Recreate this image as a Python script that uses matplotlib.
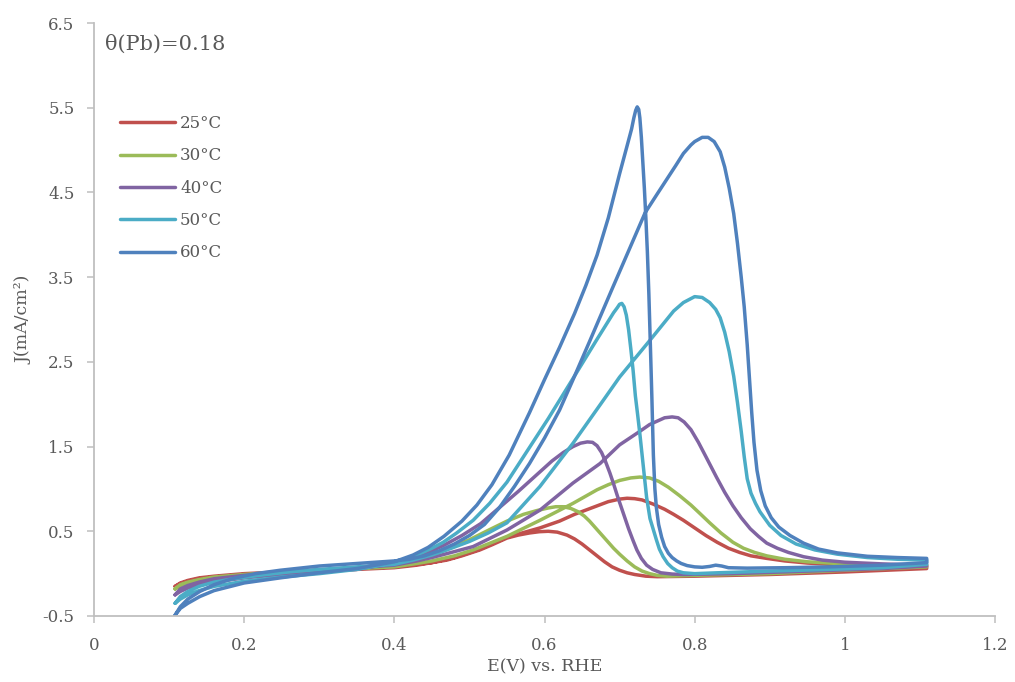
import matplotlib
matplotlib.use("Agg")
import matplotlib.pyplot as plt

# Cyclic voltammograms of ethanol oxidation, theta(Pb)=0.18, five temperatures.
# Each curve: anodic (forward) sweep 0.108 -> 1.109 V, then cathodic (backward) sweep back.

labels = ["25°C", "30°C", "40°C", "50°C", "60°C"]
colors = ["#C0504D", "#9BBB59", "#8064A2", "#4BACC6", "#4F81BD"]

# ---- 25 °C ----
e25_fwd = [0.108, 0.115, 0.125, 0.14, 0.16, 0.2, 0.25, 0.3, 0.35, 0.4, 0.43, 0.45, 0.48, 0.514, 0.55,
           0.594, 0.62, 0.64, 0.655, 0.67, 0.685, 0.70, 0.71, 0.72, 0.73, 0.745, 0.76, 0.772, 0.785,
           0.80, 0.815, 0.83, 0.845, 0.86, 0.875, 0.896, 0.92, 0.95, 1.0, 1.05, 1.109]
j25_fwd = [-0.15, -0.11, -0.08, -0.05, -0.03, 0.0, 0.02, 0.04, 0.06, 0.08, 0.11, 0.13, 0.19, 0.29, 0.43,
           0.54, 0.62, 0.70, 0.75, 0.80, 0.85, 0.88, 0.89, 0.885, 0.87, 0.82, 0.76, 0.70, 0.63,
           0.54, 0.45, 0.37, 0.30, 0.25, 0.21, 0.18, 0.15, 0.125, 0.10, 0.09, 0.08]
e25_bwd = [1.109, 1.0, 0.9, 0.8, 0.75, 0.735, 0.72, 0.71, 0.70, 0.69, 0.68, 0.67, 0.66, 0.65, 0.64,
           0.63, 0.617, 0.605, 0.593, 0.58, 0.565, 0.55, 0.53, 0.514, 0.49, 0.47, 0.45, 0.43, 0.4,
           0.35, 0.3, 0.25, 0.2, 0.16, 0.14, 0.125, 0.115, 0.108]
j25_bwd = [0.06, 0.02, -0.01, -0.03, -0.036, -0.03, -0.01, 0.01, 0.04, 0.08, 0.14, 0.21, 0.28, 0.35, 0.41,
           0.455, 0.49, 0.50, 0.495, 0.48, 0.455, 0.42, 0.34, 0.28, 0.21, 0.16, 0.13, 0.10, 0.07,
           0.05, 0.03, 0.01, -0.01, -0.04, -0.06, -0.09, -0.12, -0.15]

# ---- 30 °C ----
e30_fwd = [0.108, 0.115, 0.125, 0.14, 0.16, 0.2, 0.25, 0.3, 0.35, 0.4, 0.43, 0.45, 0.48, 0.505, 0.55,
           0.594, 0.638, 0.67, 0.685, 0.70, 0.715, 0.727, 0.74, 0.752, 0.765, 0.78, 0.795, 0.807,
           0.82, 0.835, 0.851, 0.865, 0.88, 0.896, 0.92, 0.95, 1.0, 1.05, 1.109]
j30_fwd = [-0.18, -0.13, -0.10, -0.07, -0.04, -0.01, 0.02, 0.04, 0.06, 0.08, 0.12, 0.15, 0.21, 0.28, 0.44,
           0.63, 0.83, 0.99, 1.05, 1.10, 1.13, 1.14, 1.13, 1.09, 1.02, 0.92, 0.81, 0.71,
           0.60, 0.48, 0.37, 0.30, 0.25, 0.21, 0.17, 0.14, 0.115, 0.105, 0.10]
e30_bwd = [1.109, 1.0, 0.9, 0.8, 0.763, 0.75, 0.74, 0.73, 0.72, 0.71, 0.70, 0.692, 0.684, 0.676,
           0.668, 0.66, 0.653, 0.645, 0.635, 0.625, 0.615, 0.605, 0.59, 0.572, 0.55, 0.527, 0.5,
           0.47, 0.45, 0.43, 0.4, 0.35, 0.3, 0.25, 0.2, 0.16, 0.14, 0.125, 0.115, 0.108]
j30_bwd = [0.08, 0.04, 0.0, -0.02, -0.03, -0.02, 0.0, 0.03, 0.08, 0.15, 0.23, 0.30, 0.38, 0.46,
           0.54, 0.62, 0.68, 0.73, 0.77, 0.79, 0.79, 0.775, 0.745, 0.70, 0.62, 0.52, 0.40,
           0.29, 0.22, 0.16, 0.10, 0.06, 0.03, 0.0, -0.02, -0.05, -0.08, -0.11, -0.14, -0.18]

# ---- 40 °C ----
e40_fwd = [0.108, 0.115, 0.125, 0.14, 0.16, 0.2, 0.25, 0.3, 0.35, 0.4, 0.43, 0.45, 0.48, 0.505, 0.55,
           0.594, 0.638, 0.674, 0.70, 0.727, 0.74, 0.75, 0.76, 0.77, 0.778, 0.786, 0.795, 0.805,
           0.815, 0.829, 0.84, 0.851, 0.862, 0.874, 0.885, 0.896, 0.91, 0.925, 0.945, 0.97, 1.0,
           1.05, 1.109]
j40_fwd = [-0.25, -0.18, -0.14, -0.10, -0.06, -0.02, 0.01, 0.04, 0.07, 0.10, 0.15, 0.19, 0.26, 0.32, 0.515,
           0.75, 1.07, 1.30, 1.52, 1.68, 1.76, 1.80, 1.84, 1.85, 1.84, 1.79, 1.70, 1.55,
           1.38, 1.14, 0.96, 0.80, 0.66, 0.53, 0.44, 0.36, 0.30, 0.25, 0.20, 0.16, 0.135,
           0.115, 0.10]
e40_bwd = [1.109, 1.05, 0.95, 0.85, 0.785, 0.77, 0.755, 0.744, 0.736, 0.729, 0.723, 0.718, 0.712,
           0.707, 0.702, 0.697, 0.692, 0.687, 0.681, 0.676, 0.670, 0.664, 0.657, 0.648, 0.638,
           0.625, 0.61, 0.59, 0.565, 0.54, 0.515, 0.49, 0.465, 0.445, 0.425, 0.4, 0.35, 0.3, 0.25,
           0.2, 0.16, 0.14, 0.125, 0.115, 0.108]
j40_bwd = [0.09, 0.06, 0.03, 0.0, -0.01, -0.005, 0.01, 0.05, 0.10, 0.18, 0.28, 0.39, 0.53,
           0.66, 0.79, 0.92, 1.06, 1.19, 1.33, 1.43, 1.51, 1.55, 1.555, 1.54, 1.50,
           1.43, 1.33, 1.17, 0.97, 0.78, 0.59, 0.45, 0.33, 0.25, 0.19, 0.13, 0.05, 0.02, -0.01,
           -0.05, -0.10, -0.13, -0.17, -0.21, -0.25]

# ---- 50 °C ----
e50_fwd = [0.108, 0.115, 0.125, 0.14, 0.16, 0.186, 0.22, 0.26, 0.3, 0.35, 0.4, 0.425, 0.45, 0.47, 0.5,
           0.525, 0.55, 0.594, 0.638, 0.681, 0.70, 0.74, 0.772, 0.785, 0.80, 0.81, 0.82, 0.828,
           0.834, 0.84, 0.846, 0.852, 0.857, 0.862, 0.866, 0.870, 0.875, 0.881, 0.887, 0.90,
           0.915, 0.935, 0.96, 0.99, 1.03, 1.07, 1.109]
j50_fwd = [-0.35, -0.27, -0.21, -0.15, -0.10, -0.06, -0.02, 0.02, 0.05, 0.08, 0.11, 0.16, 0.22, 0.28, 0.38,
           0.48, 0.60, 1.03, 1.54, 2.08, 2.32, 2.75, 3.10, 3.20, 3.27, 3.26, 3.20, 3.12,
           3.02, 2.85, 2.62, 2.33, 2.02, 1.68, 1.38, 1.12, 0.95, 0.83, 0.73, 0.57,
           0.45, 0.35, 0.28, 0.23, 0.19, 0.17, 0.16]
e50_bwd = [1.109, 1.05, 0.98, 0.9, 0.83, 0.80, 0.785, 0.777, 0.770, 0.764, 0.758, 0.753, 0.749,
           0.7405, 0.736, 0.733, 0.730, 0.727, 0.724, 0.721, 0.718, 0.715, 0.712, 0.709, 0.706,
           0.703, 0.700, 0.697, 0.692, 0.6695, 0.637, 0.605, 0.572, 0.55, 0.527, 0.505, 0.483,
           0.465, 0.45, 0.425, 0.4, 0.35, 0.3, 0.25, 0.2, 0.16, 0.14, 0.125, 0.115, 0.108]
j50_bwd = [0.11, 0.07, 0.05, 0.03, 0.01, 0.0, 0.01, 0.03, 0.07, 0.12, 0.20, 0.29, 0.40,
           0.65, 0.90, 1.15, 1.40, 1.65, 1.88, 2.10, 2.40, 2.65, 2.88, 3.05, 3.15,
           3.19, 3.18, 3.14, 3.08, 2.76, 2.29, 1.83, 1.38, 1.08, 0.83, 0.63, 0.48,
           0.37, 0.30, 0.20, 0.13, 0.05, 0.0, -0.04, -0.09, -0.15, -0.20, -0.25, -0.30, -0.35]

# ---- 60 °C ----
e60_fwd = [0.108, 0.115, 0.125, 0.141, 0.16, 0.186, 0.215, 0.248, 0.3, 0.35, 0.4, 0.42, 0.44, 0.46,
           0.48, 0.50, 0.52, 0.54, 0.56, 0.58, 0.60, 0.62, 0.637, 0.66, 0.69, 0.712, 0.734, 0.75,
           0.7625, 0.775, 0.785, 0.795, 0.80, 0.81, 0.818, 0.826, 0.834, 0.84, 0.846, 0.852, 0.857,
           0.862, 0.866, 0.870, 0.873, 0.876, 0.879, 0.883, 0.888, 0.894, 0.902, 0.912, 0.927,
           0.945, 0.965, 0.99, 1.03, 1.07, 1.109]
j60_fwd = [-0.49, -0.39, -0.30, -0.21, -0.13, -0.055, 0.0, 0.04, 0.09, 0.12, 0.15, 0.17, 0.21, 0.27,
           0.35, 0.45, 0.58, 0.78, 1.03, 1.30, 1.60, 1.93, 2.27, 2.74, 3.36, 3.81, 4.26, 4.48,
           4.65, 4.82, 4.96, 5.06, 5.10, 5.15, 5.15, 5.10, 4.98, 4.80, 4.55, 4.25, 3.90,
           3.50, 3.15, 2.70, 2.30, 1.90, 1.55, 1.22, 0.98, 0.80, 0.66, 0.55, 0.45,
           0.36, 0.29, 0.245, 0.205, 0.19, 0.18]
e60_bwd = [1.109, 1.05, 0.98, 0.92, 0.87, 0.845, 0.836, 0.828, 0.82, 0.81, 0.80, 0.79, 0.782,
           0.776, 0.770, 0.765, 0.760, 0.756, 0.752, 0.749, 0.747, 0.745, 0.743, 0.741, 0.739,
           0.737, 0.735, 0.733, 0.731, 0.729, 0.727, 0.7255, 0.7235, 0.7215, 0.719, 0.716, 0.71,
           0.70, 0.685, 0.67, 0.655, 0.64, 0.62, 0.60, 0.58, 0.553, 0.53, 0.51, 0.49, 0.466, 0.445,
           0.425, 0.4, 0.35, 0.3, 0.248, 0.2, 0.16, 0.141, 0.125, 0.115, 0.108]
j60_bwd = [0.13, 0.10, 0.08, 0.07, 0.065, 0.07, 0.09, 0.10, 0.085, 0.075, 0.08, 0.095, 0.12,
           0.15, 0.19, 0.24, 0.32, 0.43, 0.58, 0.78, 1.00, 1.40, 2.08, 2.70, 3.30,
           3.80, 4.20, 4.55, 4.85, 5.15, 5.38, 5.48, 5.51, 5.47, 5.38, 5.25, 5.05,
           4.72, 4.20, 3.76, 3.40, 3.07, 2.67, 2.29, 1.90, 1.40, 1.05, 0.81, 0.62, 0.44, 0.31,
           0.22, 0.14, 0.06, 0.01, -0.05, -0.11, -0.20, -0.27, -0.35, -0.41, -0.49]

series = [
    (e25_fwd, j25_fwd, e25_bwd, j25_bwd),
    (e30_fwd, j30_fwd, e30_bwd, j30_bwd),
    (e40_fwd, j40_fwd, e40_bwd, j40_bwd),
    (e50_fwd, j50_fwd, e50_bwd, j50_bwd),
    (e60_fwd, j60_fwd, e60_bwd, j60_bwd),
]

x_ticks = [0, 0.2, 0.4, 0.6, 0.8, 1.0, 1.2]
x_tick_labels = ["0", "0.2", "0.4", "0.6", "0.8", "1", "1.2"]
y_ticks = [-0.5, 0.5, 1.5, 2.5, 3.5, 4.5, 5.5, 6.5]
y_tick_labels = ["-0.5", "0.5", "1.5", "2.5", "3.5", "4.5", "5.5", "6.5"]

plt.rcParams["font.family"] = ["DejaVu Serif"]
text_color = "#595959"
axis_color = "#BFBFBF"

fig = plt.figure(figsize=(10.15, 6.82), dpi=100)
ax = fig.add_axes([94 / 1015, 1 - 616 / 682, (995 - 94) / 1015, (616 - 23) / 682])

for (ef, jf, eb, jb), lab, col in zip(series, labels, colors):
    ax.plot(list(ef) + list(eb), list(jf) + list(jb), color=col, lw=2.5, label=lab,
            solid_joinstyle="round", solid_capstyle="round")

ax.set_xlim(0, 1.2)
ax.set_ylim(-0.5, 6.5)
ax.set_xticks(x_ticks)
ax.set_xticklabels(x_tick_labels)
ax.set_yticks(y_ticks)
ax.set_yticklabels(y_tick_labels)

for side in ("top", "right"):
    ax.spines[side].set_visible(False)
for side in ("left", "bottom"):
    ax.spines[side].set_color(axis_color)
    ax.spines[side].set_linewidth(1.3)
ax.tick_params(axis="both", direction="out", length=5, width=1.1, color=axis_color,
               labelcolor=text_color, labelsize=12)
ax.tick_params(axis="y", pad=9)
ax.tick_params(axis="x", pad=10)

ax.set_xlabel("E(V) vs. RHE", color=text_color, fontsize=12.5, labelpad=3)
ax.set_ylabel("J(mA/cm²)", color=text_color, fontsize=12.5, labelpad=7)

fig.text(105 / 1015, 1 - 44 / 682, "θ(Pb)=0.18", color=text_color, fontsize=15,
         ha="left", va="center")

leg = ax.legend(loc="upper left", bbox_to_anchor=(120 / 1015, 1 - 115 / 682),
                bbox_transform=fig.transFigure, frameon=False, fontsize=12,
                handlelength=3.3, handletextpad=0.3, labelspacing=0.92,
                borderpad=0, borderaxespad=0)
for t in leg.get_texts():
    t.set_color(text_color)

fig.savefig("out.png", dpi=100)
